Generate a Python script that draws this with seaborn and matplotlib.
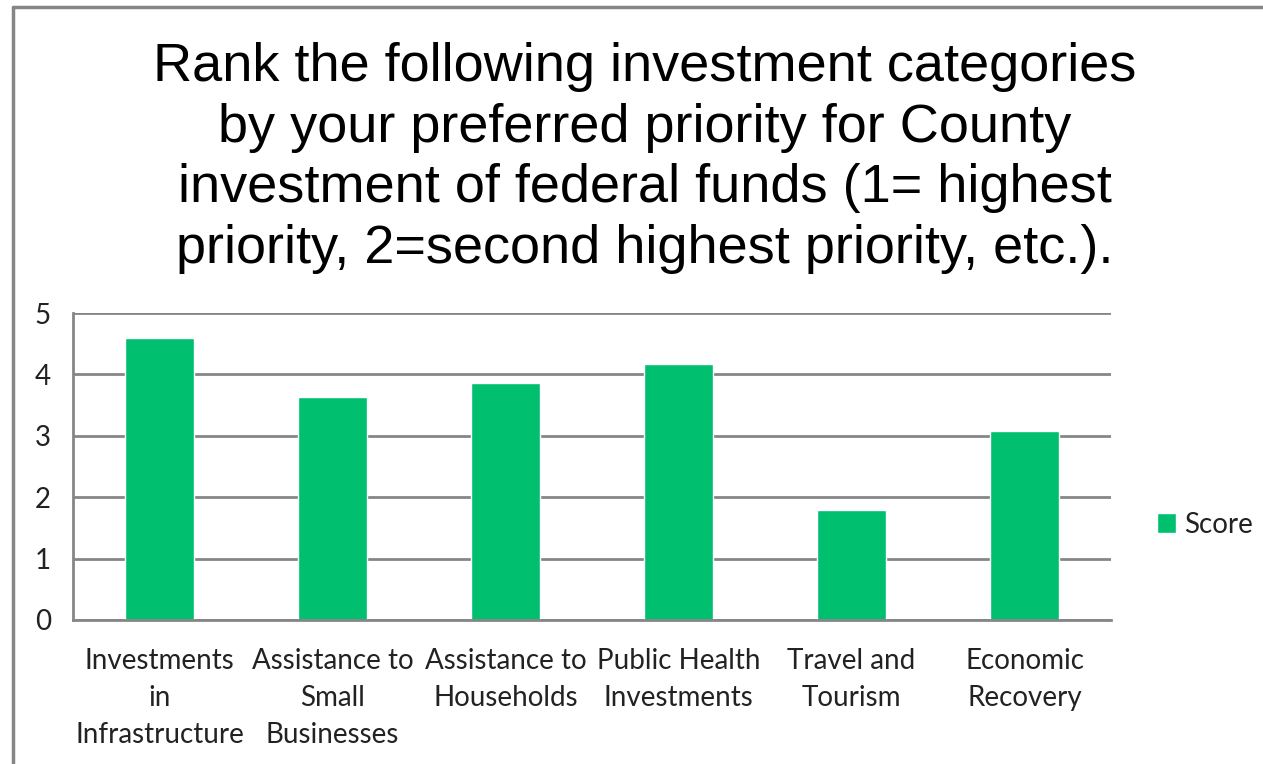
import matplotlib
matplotlib.use('Agg')
import matplotlib.pyplot as plt
from matplotlib.lines import Line2D
import seaborn as sns

categories = ['Investments\nin\nInfrastructure', 'Assistance to\nSmall\nBusinesses',
              'Assistance to\nHouseholds', 'Public Health\nInvestments',
              'Travel and\nTourism', 'Economic\nRecovery']
scores = [4.60, 3.63, 3.86, 4.17, 1.79, 3.08]
series_name = 'Score'
title = ('Rank the following investment categories\nby your preferred priority for County\n'
         'investment of federal funds (1= highest\npriority, 2=second highest priority, etc.).')

sns.set_theme(style='white')
plt.rcParams['font.family'] = ['Lato', 'DejaVu Sans']

BAR_COLOR = '#00BF6F'
GRID_COLOR = '#868686'
TEXT_COLOR = '#222222'
W, H = 1263, 764

fig = plt.figure(figsize=(W / 100, H / 100), dpi=100)
ax = fig.add_axes([73 / W, 1 - 620 / H, (1111 - 73) / W, (620 - 313) / H])

sns.barplot(x=categories, y=scores, color=BAR_COLOR, width=0.4, saturation=1,
            label=series_name, ax=ax)

ax.set_ylim(0, 5)
ax.set_xlim(-0.5, len(categories) - 0.5)
ax.set_yticks(range(6))
ax.yaxis.grid(True, color=GRID_COLOR, linewidth=2)
ax.set_axisbelow(True)
for s in ['top', 'right']:
    ax.spines[s].set_visible(False)
for s in ['left', 'bottom']:
    ax.spines[s].set_color(GRID_COLOR)
    ax.spines[s].set_linewidth(2)

ax.set_xticks([i - 0.5 for i in range(len(categories) + 1)], minor=True)
ax.tick_params(axis='x', which='major', length=0, pad=20, labelsize=20, labelcolor=TEXT_COLOR)
ax.tick_params(axis='x', which='minor', length=8, width=2, color=GRID_COLOR)
ax.tick_params(axis='y', length=8, width=2, color=GRID_COLOR, labelsize=20,
               labelcolor=TEXT_COLOR, pad=8)
for lbl in ax.get_xticklabels():
    lbl.set_linespacing(1.54)
ax.set_xlabel('')
ax.set_ylabel('')

leg = ax.legend(loc='center left', bbox_to_anchor=(1.02, 0.31), frameon=False, fontsize=20,
                handlelength=0.7, handleheight=0.7, handletextpad=0.3)
for t in leg.get_texts():
    t.set_color(TEXT_COLOR)

fig.text(645 / W, 1 - 158 / H, title, ha='center', va='center', fontsize=39, color='black',
         family=['Liberation Sans', 'DejaVu Sans'], linespacing=1.28)

fig.add_artist(Line2D([13 / W, 13 / W], [0, 1 - 7 / H], color=GRID_COLOR, linewidth=2.5,
                      transform=fig.transFigure))
fig.add_artist(Line2D([13 / W, 1], [1 - 7 / H, 1 - 7 / H], color=GRID_COLOR, linewidth=2.5,
                      transform=fig.transFigure))

fig.savefig('out.png', dpi=100)
